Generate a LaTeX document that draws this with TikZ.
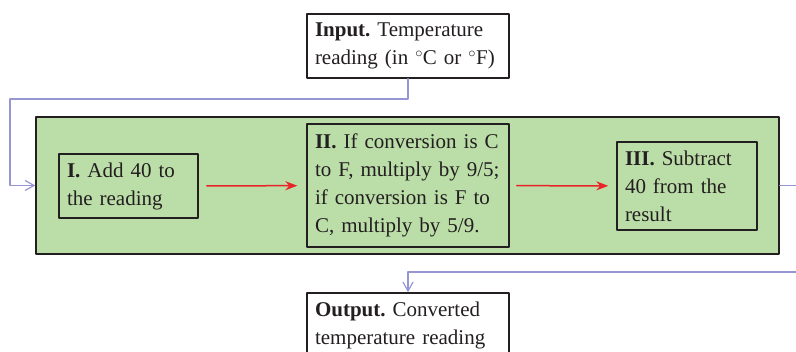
\documentclass[tikz,border=0pt]{standalone}
\usepackage{fontspec}
\setmainfont{Liberation Serif}
\frenchspacing
\usetikzlibrary{arrows.meta,positioning,calc}
\definecolor{flowGreen}{RGB}{187, 221, 167}
\definecolor{flowBlue}{RGB}{150, 150, 212}
\definecolor{flowRed}{RGB}{232, 36, 40}
\definecolor{flowInk}{RGB}{35, 31, 32}

\begin{document}
\begin{tikzpicture}[x=1pt, y=-1pt, line cap=round, line join=round,
    box/.style={draw=flowInk, line width=1.4pt, text=flowInk, align=left, inner xsep=8pt, inner ysep=0pt,
        font=\fontsize{21}{28}\selectfont},
    flow/.style={flowBlue, line width=1.2pt, -{Straight Barb[length=9pt, width=10pt]}},
    step arrow/.style={flowRed, line width=1.5pt, -{Stealth[length=12pt, width=9pt]}}]
    \useasboundingbox (0,0) rectangle (796,352);
        \node[box, fill=flowGreen, minimum width=743pt, minimum height=137pt] (green) at (407.5,185.5) {};
        \node[box, fill=white, text width=186pt, minimum height=64pt] (input) at (408,46)
            {\textbf{Input.} Temperature\\reading (in $^\circ$C or $^\circ$F)};
        \node[box, text width=123pt, minimum height=64pt] (one) at (128.5,186)
            {\textbf{I.} Add 40 to\\the reading};
        \node[box, text width=186pt, minimum height=123pt] (two) at (408,185.5)
            {\textbf{II.} If conversion is C\\to F, multiply by 9/5;\\if conversion is F to\\C, multiply by 5/9.};
        \node[box, text width=124pt, minimum height=88pt] (three) at (687,186)
            {\textbf{III.} Subtract\\40 from the\\result};
        \node[box, fill=white, text width=186pt, minimum height=64pt] (output) at (408,325)
            {\textbf{Output.} Converted\\temperature reading};
        \coordinate (lt) at (10,99);
        \coordinate (rt) at (812,272);
        \draw[flow] (input.south) |- (lt) |- (green.west);
        \draw[step arrow, shorten <=8pt, shorten >=9pt] (one) -- (two);
        \draw[step arrow, shorten <=7pt, shorten >=8pt] (two) -- (three);
        \draw[flow] (green.east) -| (rt) -| (output.north);
    \end{tikzpicture}
\end{document}
